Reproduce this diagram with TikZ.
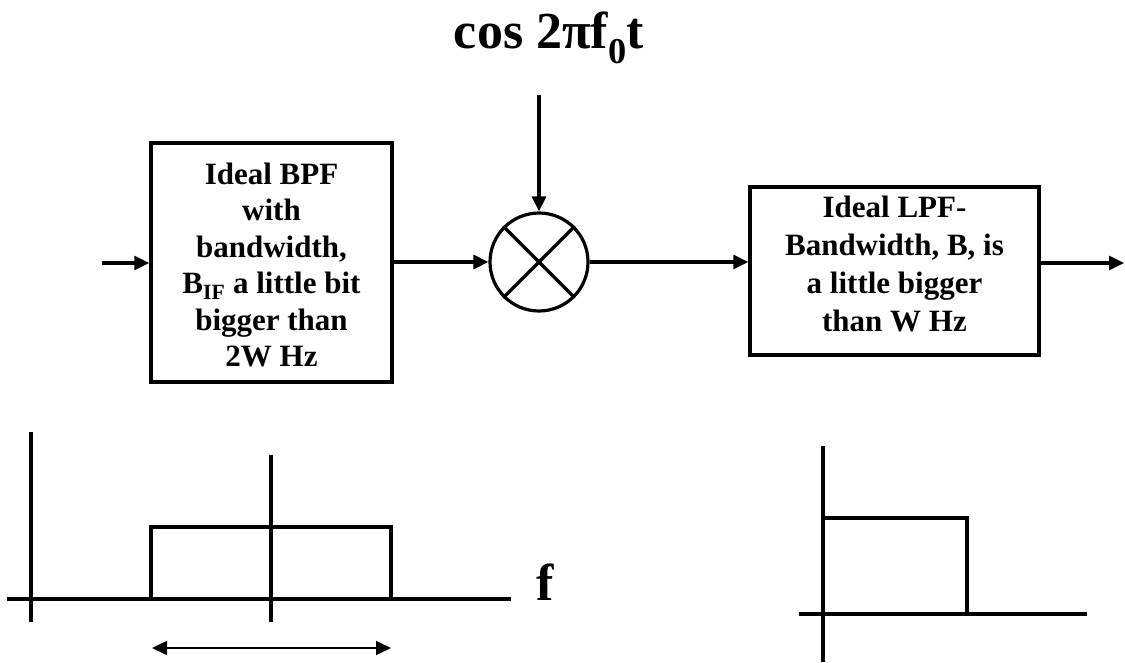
\documentclass[tikz,border=0pt]{standalone}
\usepackage{fontspec}
\setmainfont{Liberation Serif}
\usetikzlibrary{arrows.meta}
\begin{document}
\begin{tikzpicture}[x=1pt,y=-1pt,
  ln/.style={line width=3.4pt},
  arr/.style={line width=3.2pt,-{Triangle[length=15pt,width=14pt]}},
  blk/.style={draw,line width=3.5pt,rectangle,inner sep=0pt},
  lbl/.style={font=\bfseries\fontsize{31}{36.5}\selectfont,align=center,inner sep=0pt},
  big/.style={font=\bfseries\fontsize{52}{60}\selectfont,anchor=base,inner sep=0pt}]
\useasboundingbox (0,0) rectangle (1125,662);
% title
\node[big] (title) at (549,48) {cos 2πf\textsubscript{0}t};
% blocks
\node[blk,minimum width=241pt,minimum height=239pt] (bpf) at (271.5,262.5) {};
\node[lbl] (bpftext) at (271.5,265) {Ideal BPF\\with\\bandwidth,\\B\textsubscript{IF} a little bit\\bigger than\\2W Hz};
\node[draw,circle,line width=3.2pt,minimum size=98pt,inner sep=0pt] (mix) at (539,262) {};
\draw[line width=3.2pt] (mix.north west) -- (mix.south east);
\draw[line width=3.2pt] (mix.north east) -- (mix.south west);
\node[blk,minimum width=289pt,minimum height=168pt] (lpf) at (894.5,271) {};
\node[lbl,font=\bfseries\fontsize{31}{38}\selectfont] (lpftext) at (894.5,264) {Ideal LPF-\\Bandwidth, B, is\\a little bigger\\than W Hz};
% connectors
\coordinate (in) at (102,263);
\coordinate (lo) at (539,95);
\coordinate (out) at (1124,263);
\draw[arr] (in) -- (in -| bpf.west);
\draw[arr] (bpf.east |- mix.west) -- (mix.west);
\draw[arr] (lo) -- (mix.north);
\draw[arr] (mix.east) -- (mix.east -| lpf.west);
\draw[arr] (lpf.east |- out) -- (out);
% bottom-left spectrum
\draw[ln] (7,599) -- (511,599);
\draw[ln] (31,432) -- (31,622);
\draw[ln] (271,455) -- (271,622);
\draw[ln] (151,599) -- (151,527) -- (391,527) -- (391,599);
\draw[line width=1.6pt,{Triangle[length=15pt,width=14pt]}-{Triangle[length=15pt,width=14pt]}] (152,648) -- (391,648);
\node[big] (flabel) at (545,600) {f};
% bottom-right spectrum
\draw[ln] (799,614) -- (1087,614);
\draw[ln] (823,446) -- (823,662);
\draw[ln] (823,518) -- (967,518) -- (967,614);
\end{tikzpicture}
\end{document}
